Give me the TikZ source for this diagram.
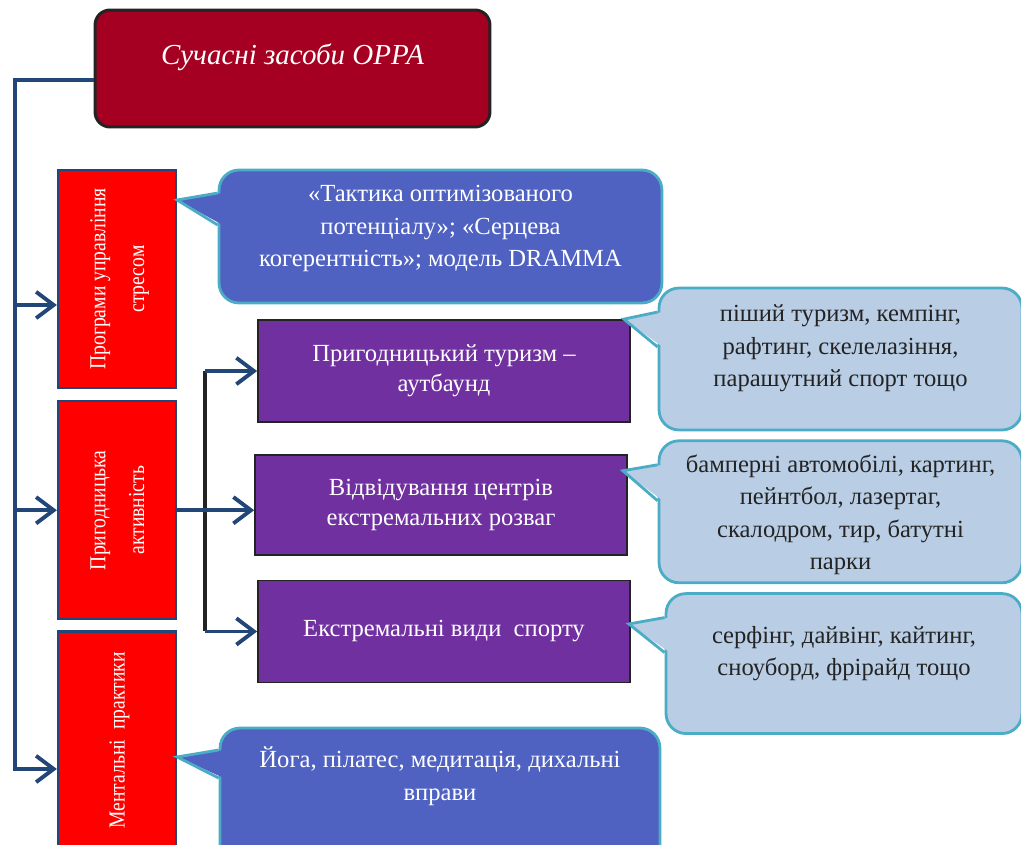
\documentclass[tikz,border=0pt]{standalone}
\usepackage{fontspec}
\setmainfont{Liberation Serif}
\usepackage{xcolor}
\usepackage{graphicx}
\usetikzlibrary{positioning,arrows.meta}

\newcommand{\sidelabel}[1]{\rotatebox{90}{\scalebox{0.86}[1]{\fontsize{13}{22}\selectfont\begin{tabular}{@{}c@{}}#1\end{tabular}}}}

\begin{document}
\begin{tikzpicture}[x=0.02cm, y=-0.02cm, auto]

  \definecolor{my_title}{RGB}{165,0,33}
  \definecolor{my_red}{RGB}{255,0,0}
  \definecolor{my_navy}{RGB}{35,70,120}
  \definecolor{my_purple}{RGB}{112,48,160}
  \definecolor{my_blue}{RGB}{79,98,193}
  \definecolor{my_blue_light}{RGB}{185,205,229}
  \definecolor{my_teal}{RGB}{75,172,198}
  \definecolor{my_gray_dark}{RGB}{35,35,35}

  \tikzstyle{head} = [rectangle, draw=my_gray_dark, line width=1.7pt, fill=my_title, rounded corners=0.3cm, inner sep=0pt, minimum width=7.9cm, text height=1.08cm, text depth=1.26cm, text=white, font=\fontsize{16.5}{20}\selectfont\itshape]
  \tikzstyle{group} = [rectangle, draw=my_navy, line width=1.3pt, fill=my_red, inner sep=0pt, minimum width=2.36cm, minimum height=4.36cm, text=white]
  \tikzstyle{item} = [rectangle, draw=my_gray_dark, line width=1pt, fill=my_purple, minimum width=7.44cm, minimum height=2.04cm, align=center, text=white, font=\fontsize{14}{17}\selectfont]
  \tikzstyle{note} = [rectangle, draw=my_teal, line width=1.6pt, rounded corners=0.4cm, inner sep=0pt, align=center, font=\fontsize{14}{18.5}\selectfont]
  \tikzstyle{wire} = [draw, my_navy, line width=2.2pt]
  \tikzstyle{link} = [wire, -{Straight Barb[length=10pt,width=15pt]}]
  \tikzstyle{edge} = [draw=my_teal, line width=1.6pt]

  \useasboundingbox (0,0) rectangle (1021,845);

  \node [head] (head) at (292.5,68.5) {Сучасні засоби ОРРА};

  \node [group] (stress) at (117,279) {\sidelabel{Програми управління\\стресом}};
  \node [group, below=0.22cm of stress] (adventure) {\sidelabel{Пригодницька\\активність}};
  \node [group, below=0.2cm of adventure] (mental) {\sidelabel{Ментальні\ \ практики}};

  \node [item] (tourism) at (444,371) {Пригодницький туризм –\\аутбаунд};
  \node [item, minimum height=2cm, below=0.62cm of tourism, xshift=-0.06cm] (centres) {Відвідування центрів\\екстремальних розваг};
  \node [item, below=0.48cm of centres, xshift=0.06cm] (sport) {Екстремальні види\ \ спорту};

  \node [note, fill=my_blue, text=white, minimum width=8.86cm, text height=1.94cm, text depth=0.72cm] (tactics) at (440.5,236.5) {«Тактика оптимізованого\\потенціалу»; «Серцева\\когерентність»; модель DRAMMA};
  \node [note, fill=my_blue, text=white, minimum width=8.8cm, text height=1.44cm, text depth=1.4cm] (yoga) at (440,799) {Йога, пілатес, медитація, дихальні\\вправи};
  \node [note, fill=my_blue_light, text=my_gray_dark, minimum width=7.26cm, text height=1.98cm, text depth=0.86cm] (hiking) at (840.5,359) {піший туризм, кемпінг,\\рафтинг, скелелазіння,\\парашутний спорт тощо};
  \node [note, fill=my_blue_light, text=my_gray_dark, minimum width=7.26cm, text height=2.58cm, text depth=0.26cm, below=0.16cm of hiking] (karting) {бамперні автомобілі, картинг,\\пейнтбол, лазертаг,\\скалодром, тир, батутні\\парки};
  \node [note, fill=my_blue_light, text=my_gray_dark, minimum width=7.12cm, text height=1.64cm, text depth=1.16cm, below=0.16cm of karting.south east, anchor=north east] (surfing) {серфінг, дайвінг, кайтинг,\\сноуборд, фрірайд тощо};

  % callout tails
  \fill [my_blue] ([yshift=1.58cm]stress.east) -- ([xshift=3pt,yshift=0.87cm]tactics.west) -- ([xshift=3pt,yshift=0.23cm]tactics.west) -- cycle;
  \path [edge] ([yshift=0.87cm]tactics.west) -- ([yshift=1.58cm]stress.east) -- ([yshift=0.23cm]tactics.west);
  \fill [my_blue] ([yshift=-0.33cm]mental.east) -- ([xshift=3pt,yshift=0.98cm]yoga.west) -- ([xshift=3pt,yshift=0.42cm]yoga.west) -- cycle;
  \path [edge] ([yshift=0.98cm]yoga.west) -- ([yshift=-0.33cm]mental.east) -- ([yshift=0.42cm]yoga.west);
  \fill [my_blue_light] ([xshift=-0.14cm]tourism.north east) -- ([xshift=3pt,yshift=0.94cm]hiking.west) -- ([xshift=3pt,yshift=0.24cm]hiking.west) -- cycle;
  \path [edge] ([yshift=0.94cm]hiking.west) -- ([xshift=-0.14cm]tourism.north east) -- ([yshift=0.24cm]hiking.west);
  \fill [my_blue_light] ([xshift=-0.1cm,yshift=0.68cm]centres.east) -- ([xshift=3pt,yshift=0.94cm]karting.west) -- ([xshift=3pt,yshift=0.22cm]karting.west) -- cycle;
  \path [edge] ([yshift=0.94cm]karting.west) -- ([xshift=-0.1cm,yshift=0.68cm]centres.east) -- ([yshift=0.22cm]karting.west);
  \fill [my_blue_light] ([xshift=-0.04cm,yshift=0.15cm]sport.east) -- ([xshift=3pt,yshift=0.92cm]surfing.west) -- ([xshift=3pt,yshift=0.22cm]surfing.west) -- cycle;
  \path [edge] ([yshift=0.92cm]surfing.west) -- ([xshift=-0.04cm,yshift=0.15cm]sport.east) -- ([yshift=0.22cm]surfing.west);

  % connectors
  \coordinate (trunk) at (15,80);
  \coordinate (fork) at (205,0);
  \coordinate (in1) at ([yshift=-0.52cm]stress.west);
  \coordinate (in3) at ([yshift=-0.57cm]mental.west);
  \path [link] ([yshift=-0.23cm]head.west) -| (trunk |- in3) -- (in3);
  \path [link] (trunk |- in1) -- (in1);
  \path [link] (trunk |- adventure.west) -- (adventure.west);
  \path [draw, my_gray_dark, line width=1.8pt] (fork |- tourism.west) -- (fork |- sport.west);
  \path [link] (fork |- tourism.west) -- (tourism.west);
  \path [link] (fork |- sport.west) -- (sport.west);
  \path [link] (adventure.east) -- (adventure.east -| centres.west);

\end{tikzpicture}
\end{document}
